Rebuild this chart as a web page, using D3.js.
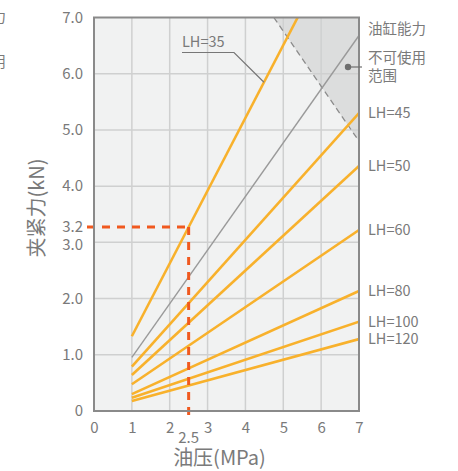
<!DOCTYPE html>
<html><head><meta charset="utf-8">
<script src="https://cdn.jsdelivr.net/npm/d3@7"></script>
<style>
html,body{margin:0;padding:0;background:#fff;}
svg{display:block;font-family:"Noto Sans CJK SC","Noto Sans",sans-serif;}
</style></head>
<body><svg id="c" width="458" height="471"></svg>
<script>
// ---- data ----
const xTicks = [0,1,2,3,4,5,6,7];
const yTicks = [0,1,2,3,4,5,6,7];
const yTickLabels = ["0","1.0","2.0","3.0","4.0","5.0","6.0","7.0"];
const seriesNames = ["LH=35","LH=45","LH=50","LH=60","LH=80","LH=100","LH=120"];
const seriesX = [[1,5.38],[1,7],[1,7],[1,7],[1,7],[1,7],[1,7]];
const seriesY = [[1.33,7.0],[0.79,5.3],[0.64,4.36],[0.475,3.22],[0.30,2.135],[0.237,1.59],[0.18,1.28]];
const capacityX = [1,7];
const capacityY = [0.955,6.68];
const limitX = [4.75,7];
const limitY = [7.0,4.8];
const markX = 2.5;
const markLabelY = "3.2";
const rightLabels = ["油缸能力","不可使用","范围"];
const xTitle = "油压(MPa)";
const yTitle = "夹紧力(kN)";

// ---- setup ----
const svg = d3.select("#c");
const x = d3.scaleLinear().domain([0,7]).range([94,359]);
const y = d3.scaleLinear().domain([0,7]).range([411,17.5]);
const orange = "#f8b12c", red = "#f0591f", txt = "#7a7a7a";

// plot background
svg.append("rect").attr("x",x(0)).attr("y",y(7)).attr("width",x(7)-x(0)).attr("height",y(0)-y(7)).attr("fill","#f1f2f2");

// shaded region
svg.append("path")
  .attr("d", d3.line()([[x(limitX[0]),y(limitY[0])],[x(7),y(7)],[x(limitX[1]),y(limitY[1])]]) + "Z")
  .attr("fill","#dcdddd");

// grid
const g = svg.append("g");
g.selectAll(".gx").data(xTicks.slice(1,-1)).enter().append("line")
  .attr("x1",d=>x(d)).attr("x2",d=>x(d)).attr("y1",y(0)).attr("y2",y(7))
  .attr("stroke","#cfd0d0").attr("stroke-width",1.5);
g.selectAll(".gy").data(yTicks.slice(1,-1)).enter().append("line")
  .attr("y1",d=>y(d)).attr("y2",d=>y(d)).attr("x1",x(0)).attr("x2",x(7))
  .attr("stroke","#cfd0d0").attr("stroke-width",1.5);

// clip
svg.append("clipPath").attr("id","clip").append("rect")
  .attr("x",x(0)).attr("y",y(7)).attr("width",x(7)-x(0)).attr("height",y(0)-y(7));

// limit dashed line
svg.append("line").attr("x1",x(limitX[0])).attr("y1",y(limitY[0])).attr("x2",x(limitX[1])).attr("y2",y(limitY[1]))
  .attr("stroke","#8c8c8c").attr("stroke-width",1.3).attr("stroke-dasharray","6,4");

// capacity line
svg.append("line").attr("x1",x(capacityX[0])).attr("y1",y(capacityY[0])).attr("x2",x(capacityX[1])).attr("y2",y(capacityY[1]))
  .attr("stroke","#9a9a9a").attr("stroke-width",1.4);

// series lines
const line = d3.line().x(d=>x(d[0])).y(d=>y(d[1]));
seriesNames.forEach((n,i)=>{
  const pts = seriesX[i].map((v,j)=>[v,seriesY[i][j]]);
  svg.append("path").attr("d",line(pts)).attr("fill","none")
    .attr("stroke",orange).attr("stroke-width",2.6).attr("clip-path","url(#clip)");
});

// marker dashed lines (at LH=35 value at x=2.5)
const lh35 = d3.scaleLinear().domain(seriesX[0]).range(seriesY[0]);
const markY = lh35(markX);
svg.append("line").attr("x1",x(0)-7).attr("x2",x(markX)).attr("y1",y(markY)).attr("y2",y(markY))
  .attr("stroke",red).attr("stroke-width",3).attr("stroke-dasharray","8,7");
svg.append("line").attr("x1",x(markX)).attr("x2",x(markX)).attr("y1",y(markY)).attr("y2",y(0)+9)
  .attr("stroke",red).attr("stroke-width",3).attr("stroke-dasharray","8,7");

// frame
svg.append("rect").attr("x",x(0)).attr("y",y(7)).attr("width",x(7)-x(0)).attr("height",y(0)-y(7))
  .attr("fill","none").attr("stroke","#8a8a8a").attr("stroke-width",2);

// axes tick labels
const yAxis = d3.axisLeft(y).tickValues(yTicks).tickFormat((d,i)=>yTickLabels[i]).tickSize(0).tickPadding(11);
const ya = svg.append("g").attr("transform",`translate(${x(0)},0)`).call(yAxis);
const xAxis = d3.axisBottom(x).tickValues(xTicks).tickFormat(d3.format("d")).tickSize(0).tickPadding(11);
const xa = svg.append("g").attr("transform",`translate(0,${y(0)})`).call(xAxis);
[ya,xa].forEach(a=>{
  a.select(".domain").remove();
  a.selectAll("text").attr("fill",txt).attr("font-size",15).attr("font-family",'"Noto Sans CJK SC",sans-serif');
});
ya.selectAll(".tick").filter(d=>d===3).select("text").attr("dy","0.45em");

// extra tick labels
svg.append("text").attr("x",x(0)-11).attr("y",y(markY)).attr("dy","0.35em").attr("text-anchor","end")
  .attr("fill",txt).attr("font-size",15).text(markLabelY);
svg.append("text").attr("x",x(markX)).attr("y",y(0)+27).attr("dy","0.35em").attr("text-anchor","middle")
  .attr("fill",txt).attr("font-size",15).text(String(markX));

// axis titles
svg.append("text").attr("x",(x(0)+x(7))/2-7).attr("y",458).attr("dy","0.35em").attr("text-anchor","middle")
  .attr("fill",txt).attr("font-size",20).text(xTitle);
svg.append("text").attr("transform","translate(37,208) rotate(-90)").attr("dy","0.35em").attr("text-anchor","middle")
  .attr("fill",txt).attr("font-size",20).text(yTitle);

// right labels for series
seriesNames.forEach((n,i)=>{
  if(i===0) return;
  svg.append("text").attr("x",368).attr("y",y(seriesY[i][1])).attr("dy","0.35em")
    .attr("fill",txt).attr("font-size",14.5).text(n);
});

// LH=35 callout
const lhx = 4.49;
svg.append("text").attr("x",182).attr("y",42).attr("dy","0.35em").attr("fill",txt).attr("font-size",14.5).text(seriesNames[0]);
svg.append("polyline").attr("points",`182,52.5 234,52.5 ${x(lhx)},${y(lh35(lhx))}`)
  .attr("fill","none").attr("stroke","#777").attr("stroke-width",1.2);

// capacity / unusable labels
svg.append("text").attr("x",368).attr("y",28.5).attr("dy","0.35em").attr("fill",txt).attr("font-size",14.5).text(rightLabels[0]);
svg.append("text").attr("x",368).attr("y",57.5).attr("dy","0.35em").attr("fill",txt).attr("font-size",14.5).text(rightLabels[1]);
svg.append("text").attr("x",368).attr("y",76).attr("dy","0.35em").attr("fill",txt).attr("font-size",14.5).text(rightLabels[2]);
svg.append("circle").attr("cx",348).attr("cy",67).attr("r",3.2).attr("fill","#6e6e6e");
svg.append("line").attr("x1",348).attr("x2",362).attr("y1",67).attr("y2",67).attr("stroke","#6e6e6e").attr("stroke-width",1.2);

// cut-off fragments from neighbouring panel at the left edge
svg.append("text").attr("x",6).attr("y",17).attr("dy","0.35em").attr("text-anchor","end").attr("fill",txt).attr("font-size",14.5).text(rightLabels[0]);
svg.append("text").attr("x",6).attr("y",62).attr("dy","0.35em").attr("text-anchor","end").attr("fill",txt).attr("font-size",14.5).text(rightLabels[1]);
</script></body></html>
